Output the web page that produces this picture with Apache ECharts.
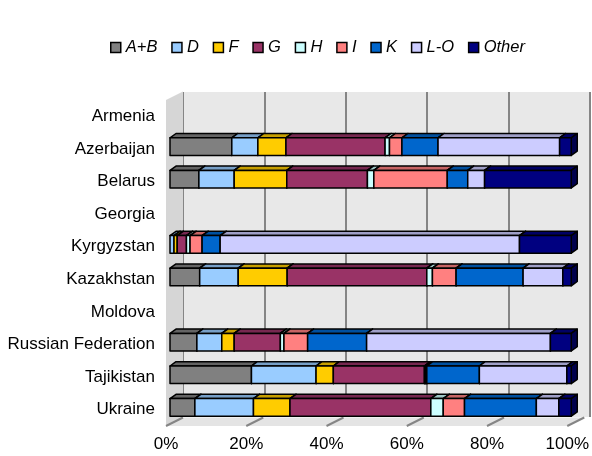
<!DOCTYPE html>
<html>
<head>
<meta charset="utf-8">
<script src="https://cdn.jsdelivr.net/npm/echarts@6/dist/echarts.min.js"></script>
<style>html,body{margin:0;padding:0;background:#fff;}#c{width:592px;height:456px;}</style>
</head>
<body>
<div id="c"></div>
<script>
const categories = ['Armenia','Azerbaijan','Belarus','Georgia','Kyrgyzstan','Kazakhstan','Moldova','Russian Federation','Tajikistan','Ukraine'];
const seriesNames = ['A+B','D','F','G','H','I','K','L-O','Other'];
const colors = ['#808080','#99ccff','#ffcc00','#993366','#ccffff','#ff8080','#0066cc','#ccccff','#000080'];
const valAB    = [0, 15.4,  7.2, 0,  0.0,  7.4, 0,  6.7, 20.3,  6.2];
const valD     = [0,  6.5,  8.8, 0,  1.0,  9.6, 0,  6.2, 16.1, 14.6];
const valF     = [0,  7.0, 13.1, 0,  0.8, 12.2, 0,  3.1,  4.3,  9.1];
const valG     = [0, 24.7, 20.1, 0,  2.3, 34.8, 0, 11.5, 22.7, 35.1];
const valH     = [0,  1.1,  1.6, 0,  0.9,  1.4, 0,  0.9,  0.3,  3.1];
const valI     = [0,  3.1, 18.3, 0,  3.0,  5.9, 0,  5.9,  0.3,  5.3];
const valK     = [0,  9.0,  5.1, 0,  4.5, 16.7, 0, 14.7, 13.1, 17.9];
const valLO    = [0, 30.3,  4.2, 0, 74.6,  9.9, 0, 45.8, 21.8,  5.6];
const valOther = [0,  2.9, 21.6, 0, 12.9,  2.1, 0,  5.2,  1.1,  3.1];
const xTicks = [0, 20, 40, 60, 80, 100];

const allVals = [valAB, valD, valF, valG, valH, valI, valK, valLO, valOther];
const FONT = '"Liberation Sans", Arial, sans-serif';

// 3D style constants
const WALL_DX = 17, WALL_DY = -8.5;
const BAR_OX = 4, BAR_OY = -2.3, BAR_DX = 6, BAR_DY = -4.3, BAR_FRAC = 0.54;

function shade(hex, f) {
  const n = parseInt(hex.slice(1), 16);
  const r = Math.round(((n >> 16) & 255) * f), g = Math.round(((n >> 8) & 255) * f), b = Math.round((n & 255) * f);
  return 'rgb(' + r + ',' + g + ',' + b + ')';
}

// cumulative stacking
const cum = categories.map(() => 0);
const barSeries = allVals.map((vals, si) => {
  const data = vals.map((v, ci) => {
    const s = cum[ci];
    cum[ci] += v;
    return [s, cum[ci], ci, v];
  });
  const col = colors[si];
  return {
    type: 'custom',
    name: seriesNames[si],
    xAxisIndex: 1, yAxisIndex: 1,
    clip: false,
    itemStyle: { color: col, borderColor: '#000', borderWidth: 1.5 },
    data: data,
    renderItem: function (params, api) {
      const v = api.value(3);
      if (!(v > 0)) return null;
      const p0 = api.coord([api.value(0), api.value(2)]);
      const p1 = api.coord([api.value(1), api.value(2)]);
      const band = api.size([0, 1])[1];
      const h = band * BAR_FRAC;
      const x0 = p0[0] + BAR_OX, x1 = p1[0] + BAR_OX;
      const yc = p0[1] + BAR_OY;
      const top = yc - h / 2, bot = yc + h / 2;
      const line = { stroke: '#000', lineWidth: 1.5, lineJoin: 'round' };
      return {
        type: 'group',
        children: [
          { type: 'polygon', shape: { points: [[x0, top], [x1, top], [x1 + BAR_DX, top + BAR_DY], [x0 + BAR_DX, top + BAR_DY]] },
            style: Object.assign({ fill: shade(col, 0.78) }, line) },
          { type: 'polygon', shape: { points: [[x1, top], [x1 + BAR_DX, top + BAR_DY], [x1 + BAR_DX, bot + BAR_DY], [x1, bot]] },
            style: Object.assign({ fill: shade(col, 0.6) }, line) },
          { type: 'rect', shape: { x: x0, y: top, width: x1 - x0, height: bot - top },
            style: Object.assign({ fill: col }, line) }
        ]
      };
    }
  };
});

const floorSeries = {
  type: 'custom',
  name: '__floor',
  xAxisIndex: 1, yAxisIndex: 1,
  clip: false,
  silent: true,
  z: 1,
  data: xTicks.map(t => [t]),
  renderItem: function (params, api) {
    const cs = params.coordSys;
    const bottom = cs.y + cs.height;
    const x = api.coord([api.value(0), 0])[0];
    const children = [];
    if (params.dataIndex === 0) {
      children.push({ type: 'polygon', shape: { points: [[cs.x, bottom], [cs.x + cs.width, bottom], [cs.x + cs.width + WALL_DX, bottom + WALL_DY], [cs.x + WALL_DX, bottom + WALL_DY]] },
        style: { fill: '#e4e4e4' } });
      children.push({ type: 'polygon', shape: { points: [[cs.x, cs.y], [cs.x + WALL_DX, cs.y + WALL_DY], [cs.x + WALL_DX, bottom + WALL_DY], [cs.x, bottom]] },
        style: { fill: '#d6d6d6' } });
    }
    children.push({ type: 'line', shape: { x1: x, y1: bottom, x2: x + WALL_DX, y2: bottom + WALL_DY },
      style: { stroke: '#858585', lineWidth: 2 } });
    return { type: 'group', children: children };
  }
};

const chart = echarts.init(document.getElementById('c'), null, { renderer: 'canvas' });
chart.setOption({
  animation: false,
  backgroundColor: '#fff',
  textStyle: { fontFamily: FONT },
  legend: {
    data: seriesNames,
    top: 39, left: 110, padding: 0,
    icon: 'rect',
    itemWidth: 10, itemHeight: 10, itemGap: 13.8,
    itemStyle: { borderColor: '#000', borderWidth: 1.5 },
    textStyle: { fontFamily: FONT, fontSize: 16.5, fontStyle: 'italic', color: '#000' }
  },
  grid: [
    { left: 183, top: 92, width: 407, height: 325, show: true, backgroundColor: '#e8e8e8', borderWidth: 0 },
    { left: 166, top: 100, width: 408, height: 326, show: false }
  ],
  xAxis: [
    { gridIndex: 0, type: 'value', min: 0, max: 100, interval: 20,
      axisLine: { show: false }, axisTick: { show: false }, axisLabel: { show: false },
      splitLine: { show: true, lineStyle: { color: '#858585', width: 2 } } },
    { gridIndex: 1, type: 'value', min: 0, max: 100, interval: 20,
      axisLine: { show: false }, axisTick: { show: false }, splitLine: { show: false },
      axisLabel: { formatter: '{value}%', color: '#000', fontSize: 17, fontFamily: FONT, margin: 10 } }
  ],
  yAxis: [
    { gridIndex: 0, type: 'category', data: categories, inverse: true, show: false },
    { gridIndex: 1, type: 'category', data: categories, inverse: true,
      axisLine: { show: false }, axisTick: { show: false }, splitLine: { show: false },
      axisLabel: { color: '#000', fontSize: 17, fontFamily: FONT, margin: 11 } }
  ],
  series: [floorSeries].concat(barSeries)
});
</script>
</body>
</html>
